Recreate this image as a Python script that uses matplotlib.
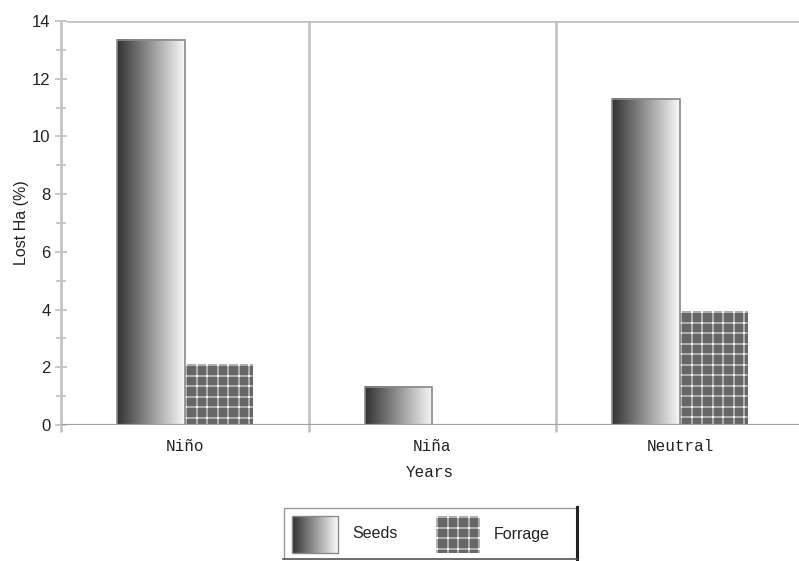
import numpy as np
import matplotlib.pyplot as plt
from matplotlib.patches import Rectangle

years = ['Niño', 'Niña', 'Neutral']
seeds = [13.35, 1.33, 11.3]
forrage = [2.1, 0.0, 3.95]
yticks = [0, 2, 4, 6, 8, 10, 12, 14]

W, H = 799, 561
fig = plt.figure(figsize=(W / 100, H / 100), dpi=100)
ax = fig.add_axes([61 / W, 1 - 425 / H, 1 - 61 / W, (425 - 21) / H])
ax.set_xlim(-0.5, 2.48)
ax.set_ylim(0, 14)

grid_col = '#c4c4c4'


def gradient(nx):
    g = np.linspace(0.2, 0.97, nx)
    return np.tile(g, (2, 1))


def check_texture(nrows, ncols, period=10.5):
    yy, xx = np.mgrid[0:nrows, 0:ncols]
    ly = (yy % period) < 2
    lx = (xx % period) < 2
    tex = np.full((nrows, ncols), 0.40)
    tex[ly | lx] = 0.68
    tex[ly & lx] = 0.97
    return tex


def px_size(axes, x0, x1, y0, y1):
    p0 = axes.transData.transform((x0, y0))
    p1 = axes.transData.transform((x1, y1))
    return max(int(round(abs(p1[1] - p0[1]))), 1), max(int(round(abs(p1[0] - p0[0]))), 1)


w = 0.274
x = np.arange(len(years))

# seeds bars with left-to-right grey gradient
bars = ax.bar(x - w / 2, seeds, w, facecolor='none', edgecolor='#8a8a8a',
              linewidth=1.2, zorder=4)
for b in bars:
    x0, h = b.get_x(), b.get_height()
    ax.imshow(gradient(64), extent=(x0, x0 + w, 0, h), aspect='auto',
              cmap='gray', vmin=0, vmax=1, interpolation='bilinear', zorder=3)

# forrage bars with checked texture
fbars = ax.bar(x + w / 2, forrage, w, facecolor='none', edgecolor='none', zorder=4)
for b in fbars:
    x0, h = b.get_x(), b.get_height()
    if h <= 0:
        continue
    nr, nc = px_size(ax, x0, x0 + w, 0, h)
    ax.imshow(check_texture(nr, nc), extent=(x0, x0 + w, 0, h), aspect='auto',
              cmap='gray', vmin=0, vmax=1, interpolation='bilinear', zorder=3)

ax.set_xlim(-0.5, 2.48)
ax.set_ylim(0, 14)

# frame and separators
for s in ax.spines.values():
    s.set_visible(False)
ax.vlines([-0.5, 0.5, 1.5], -0.25, 14, colors=grid_col, linewidth=2,
          clip_on=False, zorder=1)
ax.axhline(14, xmin=0.01, color=grid_col, linewidth=2, zorder=1)
ax.axhline(0, color='#a0a0a0', linewidth=1.6, zorder=5)

ax.set_yticks(yticks)
ax.set_yticks(np.arange(1, 14, 2), minor=True)
ax.tick_params(axis='y', which='both', direction='inout', length=9,
               width=1.3, color=grid_col, labelsize=12, pad=3,
               labelcolor='#222222')
ax.tick_params(axis='y', which='minor', length=7)
for lab in ax.get_yticklabels():
    lab.set_fontfamily('Liberation Sans')

ax.set_xticks(x)
ax.set_xticklabels(years, fontfamily='Liberation Mono', fontsize=11.5,
                   color='#222222')
ax.tick_params(axis='x', length=0, pad=10)
ax.set_xlabel('Years', fontfamily='Liberation Mono', fontsize=11.5,
              color='#222222', labelpad=8)
ax.set_ylabel('Lost Ha (%)', fontfamily='Liberation Sans', fontsize=11.5,
              color='#222222', labelpad=2)

# legend box
lg = fig.add_axes([283 / W, 1 - 560 / H, (578 - 283) / W, (560 - 507) / H])
lg.set_xlim(0, 295)
lg.set_ylim(0, 53)
lg.axis('off')
lg.add_patch(Rectangle((0.5, 0.5), 293, 52, facecolor='white',
                       edgecolor='#9a9a9a', linewidth=1, zorder=0))
lg.plot([294, 294], [0, 53], color='#222222', linewidth=2.2, clip_on=False)
lg.plot([0, 294], [0.6, 0.6], color='#555555', linewidth=1.2, clip_on=False)
lg.imshow(gradient(46), extent=(9, 55, 7, 44), aspect='auto', cmap='gray',
          vmin=0, vmax=1, interpolation='bilinear', zorder=2)
lg.add_patch(Rectangle((9, 7), 46, 37, facecolor='none', edgecolor='#8a8a8a',
                       linewidth=1, zorder=3))
lg.text(69, 26, 'Seeds', fontfamily='Liberation Sans', fontsize=11.5,
        va='center', ha='left', color='#222222')
lg.imshow(check_texture(37, 44), extent=(153, 197, 7, 44), aspect='auto',
          cmap='gray', vmin=0, vmax=1, interpolation='bilinear', zorder=2)
lg.text(211, 26, 'Forrage', fontfamily='Liberation Sans', fontsize=11.5,
        va='center', ha='left', color='#222222')
lg.set_xlim(0, 295)
lg.set_ylim(0, 53)

fig.savefig('out.png', dpi=100)
